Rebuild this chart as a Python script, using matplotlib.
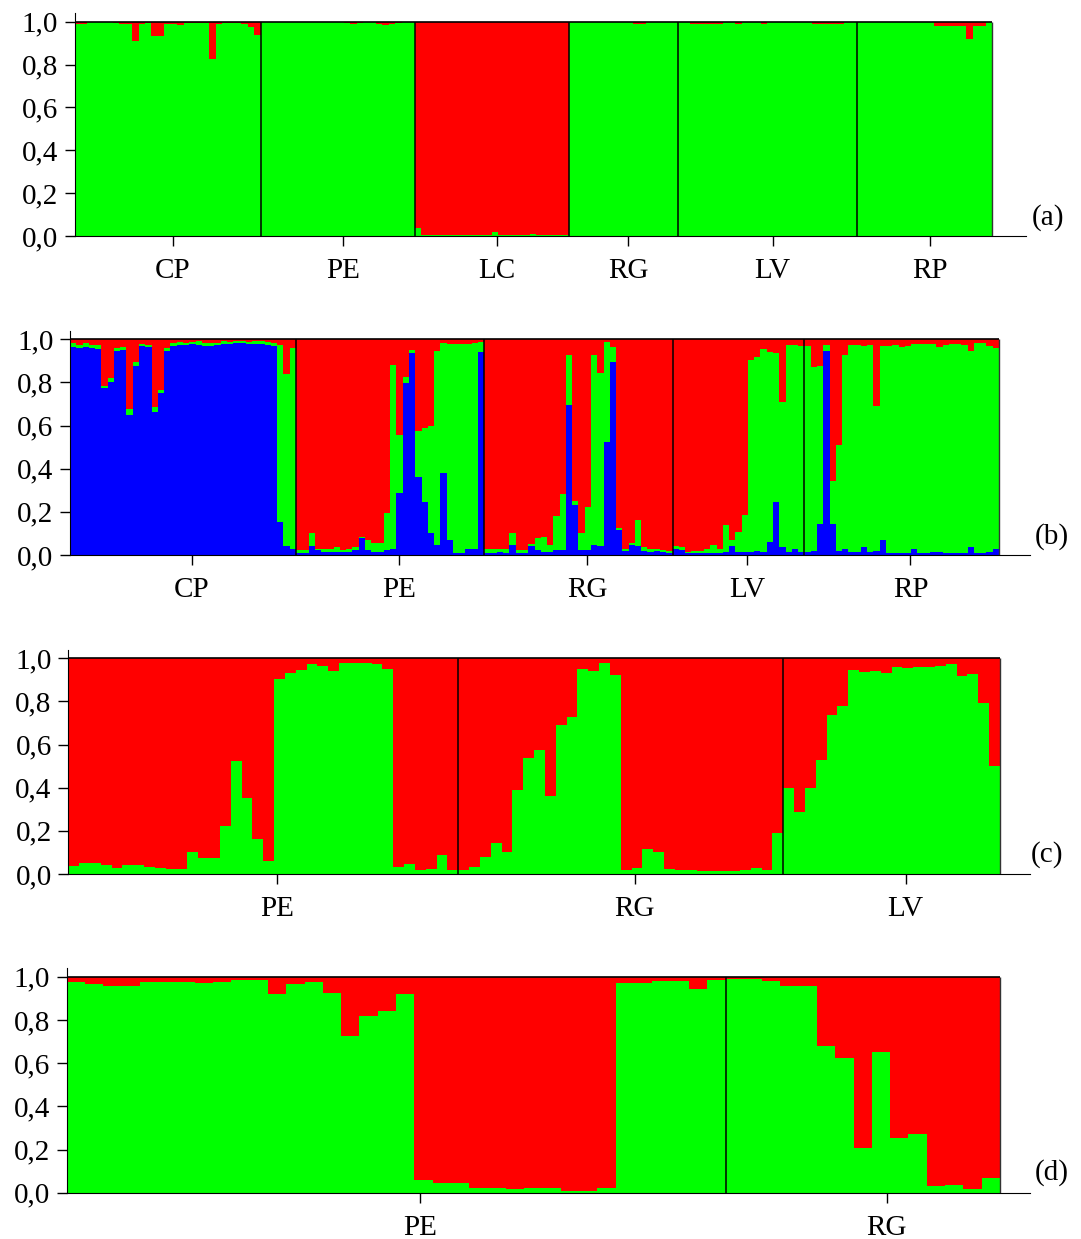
import matplotlib.pyplot as plt
import numpy as np

plt.rcParams['font.family'] = ['Liberation Serif', 'DejaVu Serif']

GREEN = '#00ff00'
RED = '#ff0000'
BLUE = '#0000ff'

# ---- panel (a), K=2: red share per individual (green = rest)
a_pops = ['CP', 'PE', 'LC', 'RG', 'LV', 'RP']
a_CP_red = [0.01, 0.01, 0.0, 0.0, 0.003, 0.003, 0.008, 0.012, 0.012, 0.09, 0.012, 0.008,
            0.065, 0.065, 0.01, 0.012, 0.015, 0.008, 0.004, 0.004, 0.004, 0.175, 0.01,
            0.006, 0.006, 0.006, 0.012, 0.025, 0.06]
a_PE_red = [0.002] * 13 + [0.005, 0.012, 0.004, 0.002, 0.003, 0.012, 0.014, 0.012, 0.005,
                           0.002, 0.002]
a_LC_red = [0.964, 0.996, 0.997, 0.997, 0.997, 0.997, 0.997, 0.997, 0.997, 0.997, 0.997,
            0.996, 0.98, 0.996, 0.997, 0.997, 0.997, 0.997, 0.99, 0.997, 0.997, 0.997,
            0.997, 0.997]
a_RG_red = [0.003] * 10 + [0.01, 0.01] + [0.003] * 5
a_LV_red = [0.003, 0.003, 0.01, 0.01, 0.01, 0.01, 0.01, 0.003, 0.003, 0.012, 0.003,
            0.003, 0.003, 0.01, 0.003, 0.003, 0.003, 0.003, 0.003, 0.003, 0.003,
            0.012, 0.012, 0.012, 0.012, 0.012, 0.003, 0.003]
a_RP_red = [0.003] * 12 + [0.02, 0.02, 0.02, 0.02, 0.02, 0.08, 0.02, 0.02, 0.003]

# ---- panel (b), K=3: blue and green shares (red = rest)
b_pops = ['CP', 'PE', 'RG', 'LV', 'RP']
b_CP_blue = [0.963, 0.96, 0.965, 0.96, 0.955, 0.773, 0.80, 0.945, 0.95, 0.65, 0.875, 0.97,
             0.965, 0.665, 0.75, 0.945, 0.97, 0.975, 0.975, 0.98, 0.975, 0.97, 0.97, 0.975,
             0.98, 0.98, 0.985, 0.985, 0.98, 0.98, 0.98, 0.975, 0.97, 0.155, 0.04, 0.03]
b_CP_green = [0.02, 0.015, 0.02, 0.015, 0.02, 0.012, 0.02, 0.015, 0.012, 0.025, 0.02, 0.01,
              0.01, 0.02, 0.015, 0.015, 0.015, 0.012, 0.01, 0.008, 0.015, 0.012, 0.015, 0.01,
              0.01, 0.008, 0.006, 0.006, 0.008, 0.01, 0.01, 0.012, 0.012, 0.82, 0.80, 0.928]
b_PE_blue = [0.01, 0.01, 0.042, 0.023, 0.015, 0.015, 0.015, 0.015, 0.015, 0.023, 0.077,
             0.023, 0.015, 0.015, 0.023, 0.03, 0.286, 0.796, 0.935, 0.363, 0.247, 0.10,
             0.046, 0.382, 0.07, 0.01, 0.01, 0.03, 0.03, 0.943]
b_PE_green = [0.015, 0.015, 0.058, 0.007, 0.015, 0.015, 0.02, 0.01, 0.015, 0.015, 0.008,
              0.045, 0.04, 0.04, 0.17, 0.85, 0.27, 0.03, 0.015, 0.21, 0.34, 0.50, 0.90,
              0.60, 0.91, 0.97, 0.97, 0.95, 0.955, 0.045]
b_RG_blue = [0.01, 0.01, 0.012, 0.01, 0.046, 0.01, 0.01, 0.04, 0.025, 0.015, 0.015, 0.023,
             0.023, 0.695, 0.23, 0.023, 0.023, 0.046, 0.042, 0.525, 0.896, 0.116, 0.02,
             0.046, 0.04, 0.02, 0.015, 0.02, 0.015, 0.01]
b_RG_green = [0.016, 0.016, 0.014, 0.016, 0.054, 0.015, 0.015, 0.01, 0.052, 0.07, 0.03,
              0.16, 0.26, 0.232, 0.02, 0.08, 0.20, 0.88, 0.80, 0.464, 0.07, 0.01, 0.01,
              0.01, 0.12, 0.015, 0.015, 0.01, 0.01, 0.01]
b_LV_blue = [0.03, 0.025, 0.01, 0.01, 0.01, 0.01, 0.01, 0.01, 0.012, 0.043, 0.012, 0.012,
             0.012, 0.02, 0.012, 0.062, 0.245, 0.036, 0.012, 0.028, 0.012]
b_LV_green = [0.01, 0.01, 0.005, 0.008, 0.01, 0.02, 0.035, 0.02, 0.125, 0.025, 0.095,
              0.175, 0.89, 0.90, 0.945, 0.88, 0.69, 0.675, 0.963, 0.944, 0.955]
b_RP_blue = [0.012, 0.02, 0.144, 0.944, 0.144, 0.02, 0.028, 0.012, 0.012, 0.036, 0.012,
             0.02, 0.07, 0.01, 0.01, 0.01, 0.01, 0.028, 0.01, 0.01, 0.015, 0.015, 0.01,
             0.01, 0.01, 0.01, 0.036, 0.01, 0.01, 0.012, 0.028]
b_RP_green = [0.955, 0.85, 0.73, 0.03, 0.20, 0.49, 0.90, 0.96, 0.96, 0.935, 0.96, 0.67,
              0.90, 0.96, 0.965, 0.955, 0.96, 0.95, 0.97, 0.97, 0.965, 0.95, 0.965, 0.97,
              0.97, 0.965, 0.91, 0.975, 0.975, 0.955, 0.93]

# ---- panel (c), K=2: green share
c_pops = ['PE', 'RG', 'LV']
c_PE_green = [0.037, 0.053, 0.053, 0.042, 0.03, 0.042, 0.042, 0.034, 0.03, 0.023, 0.023,
              0.104, 0.073, 0.073, 0.224, 0.525, 0.354, 0.16, 0.062, 0.904, 0.93, 0.946,
              0.974, 0.964, 0.943, 0.977, 0.977, 0.977, 0.972, 0.949, 0.034, 0.045, 0.019,
              0.023, 0.088, 0.019]
c_RG_green = [0.019, 0.031, 0.08, 0.145, 0.104, 0.39, 0.54, 0.575, 0.362, 0.69, 0.73, 0.95,
              0.94, 0.977, 0.923, 0.019, 0.026, 0.116, 0.104, 0.023, 0.02, 0.02, 0.015,
              0.015, 0.015, 0.015, 0.017, 0.026, 0.019, 0.19]
c_LV_green = [0.40, 0.288, 0.40, 0.53, 0.738, 0.78, 0.945, 0.938, 0.94, 0.934, 0.96, 0.957,
              0.96, 0.96, 0.963, 0.972, 0.918, 0.926, 0.793, 0.503]

# ---- panel (d), K=2: green share
d_pops = ['PE', 'RG']
d_PE_green = [0.974, 0.968, 0.957, 0.957, 0.974, 0.977, 0.977, 0.969, 0.977, 0.985, 0.985,
              0.918, 0.964, 0.974, 0.923, 0.727, 0.82, 0.841, 0.918, 0.059, 0.043, 0.043,
              0.023, 0.023, 0.017, 0.02, 0.02, 0.01, 0.01, 0.02, 0.969, 0.969, 0.98, 0.98,
              0.943, 0.985]
d_RG_green = [0.989, 0.989, 0.98, 0.958, 0.958, 0.679, 0.625, 0.205, 0.65, 0.252, 0.27,
              0.032, 0.035, 0.017, 0.069]

W, H = 1081, 1239
fig = plt.figure(figsize=(W / 100, H / 100), dpi=100)
TOP = 1.04


def make_axes(left, y1, y0, right, bars_end, n):
    unit = y0 - y1
    ax = fig.add_axes([left / W, 1 - y0 / H, (right - left) / W, unit * TOP / H])
    ax.set_ylim(0, TOP)
    ax.set_xlim(0, n * (right - left) / (bars_end - left))
    return ax


def finish(ax, pops, groups, shift, letter, lx, ly):
    counts = [len(g) for g in groups]
    n = sum(counts)
    edges = np.cumsum([0] + counts)
    ax.vlines(edges[1:-1], 0, 1, color='black', lw=1.1, zorder=3)
    ax.hlines(1, 0, n, color='black', lw=1.2, zorder=3)
    ax.vlines(n, 0, 1, color='#333333', lw=1, zorder=3)
    ax.set_xticks(edges[:-1] + np.array(counts) / 2 + shift)
    ax.set_xticklabels(pops)
    yt = [0, 0.2, 0.4, 0.6, 0.8, 1.0]
    ax.set_yticks(yt)
    ax.set_yticklabels([('%.1f' % v).replace('.', ',') for v in yt])
    ax.tick_params(axis='both', direction='out', length=7, width=1, labelsize=21, pad=5)
    ax.tick_params(axis='x', pad=9)
    ax.spines['top'].set_visible(False)
    ax.spines['right'].set_visible(False)
    fig.text(lx / W, 1 - ly / H, letter, fontsize=21, ha='center', va='center')


def stack(ax, layers, colors):
    # layers: list of share arrays from bottom to top
    n = len(layers[0])
    edges = np.arange(n + 1)
    base = np.zeros(n)
    for vals, col in zip(layers, colors):
        top = base + np.asarray(vals)
        ax.stairs(top, edges, baseline=base, fill=True, color=col, lw=0)
        base = top


# (a)
a_groups = [a_CP_red, a_PE_red, a_LC_red, a_RG_red, a_LV_red, a_RP_red]
a_red = np.concatenate(a_groups)
ax = make_axes(74.5, 21.7, 236, 1026, 992, len(a_red))
stack(ax, [1 - a_red, a_red], [GREEN, RED])
finish(ax, a_pops, a_groups, 0.8, '(a)', 1048, 218)

# (b)
b_blue = np.concatenate([b_CP_blue, b_PE_blue, b_RG_blue, b_LV_blue, b_RP_blue])
b_green = np.concatenate([b_CP_green, b_PE_green, b_RG_green, b_LV_green, b_RP_green])
ax = make_axes(70, 339.3, 555, 1030, 999, len(b_blue))
stack(ax, [b_blue, b_green, 1 - b_blue - b_green], [BLUE, GREEN, RED])
finish(ax, b_pops, [b_CP_blue, b_PE_blue, b_RG_blue, b_LV_blue, b_RP_blue], 1.4,
       '(b)', 1052, 537)

# (c)
c_groups = [c_PE_green, c_RG_green, c_LV_green]
c_green = np.concatenate(c_groups)
ax = make_axes(68.3, 658.3, 874, 1030, 1000, len(c_green))
stack(ax, [c_green, 1 - c_green], [GREEN, RED])
finish(ax, c_pops, c_groups, 1.3, '(c)', 1047, 855)

# (d)
d_groups = [d_PE_green, d_RG_green]
d_green = np.concatenate(d_groups)
ax = make_axes(66.7, 976.7, 1192.7, 1030, 1000, len(d_green))
stack(ax, [d_green, 1 - d_green], [GREEN, RED])
finish(ax, d_pops, d_groups, 1.3, '(d)', 1052, 1173)

fig.savefig('out.png', dpi=100)
